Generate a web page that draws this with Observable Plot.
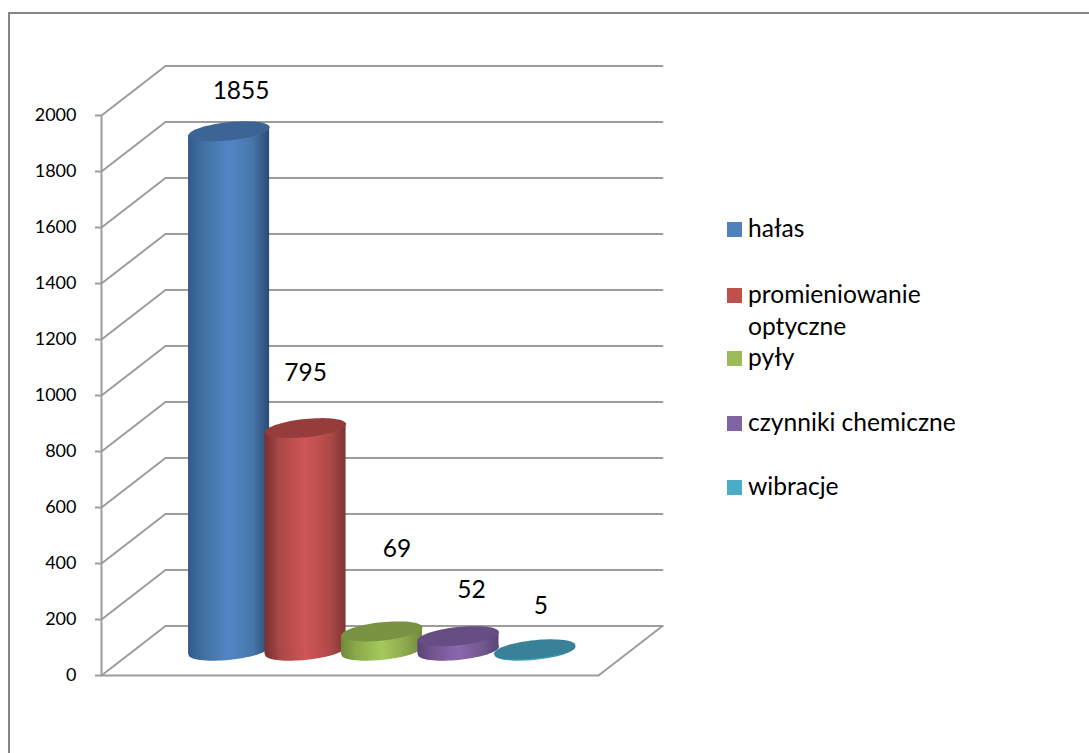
<!DOCTYPE html>
<html lang="pl">
<head>
<meta charset="utf-8">
<script src="https://cdn.jsdelivr.net/npm/d3@7"></script>
<script src="https://cdn.jsdelivr.net/npm/@observablehq/plot@0.6"></script>
<style>
  html, body { margin: 0; padding: 0; background: #fff; }
  #wrap { position: relative; width: 1089px; height: 753px; overflow: hidden; font-family: Lato, sans-serif; color: #000; }
  #frame { position: absolute; left: 8px; top: 12px; right: -4px; bottom: -4px; border-left: 2px solid #868686; border-top: 2px solid #868686; }
  #legend { position: absolute; left: 727px; top: 0; font-size: 24.6px; }
  .item { position: absolute; left: 0; width: 240px; line-height: 32px; padding-left: 21px; box-sizing: border-box; }
  .swatch { position: absolute; left: 0; top: 9px; width: 15px; height: 15px; }
  svg text { font-family: Lato, sans-serif; }
</style>
</head>
<body>
<div id="wrap"><div id="frame"></div><div id="chart"></div><div id="legend"></div></div>
<script>
const seriesNames = ["hałas", "promieniowanie optyczne", "pyły", "czynniki chemiczne", "wibracje"];
const seriesValues = [1855, 795, 69, 52, 5];
const axisTicks = [0, 200, 400, 600, 800, 1000, 1200, 1400, 1600, 1800, 2000];
const swatchColors = ["#4f81bd", "#c0504d", "#9bbb59", "#8064a2", "#4bacc6"];
const topColors = ["#3c6494", "#963d3c", "#7a9343", "#664e85", "#388198"];
const gradients = [
  ["#2f5a8e", "#41719f", "#5286c8", "#4776a8", "#2b4a74"],
  ["#772f2e", "#a84746", "#cf5655", "#ae4a48", "#7e3533"],
  ["#6f8a38", "#8ba84a", "#a5c95c", "#8ca74e", "#71883e"],
  ["#5a4277", "#72558f", "#8a68ae", "#72588f", "#59447a"],
  ["#2d7e92", "#3a93a8", "#4aa9c2", "#3a93a8", "#2d7e92"]
];
// hand-placed data label offsets (pixels) from the top of each cylinder
const labelDx = [12, 0, 15, 13, 6];
const labelDy = [-40, -55, -82, -46, -43];

// oblique-projection depth of the 3D box, in data units
const xLo = -1.25, xHi = 5.25;
const depthX = 0.837, depthY = 177;
const halfWidth = 0.53, tilt = 14;

const ellipse = {
  draw(ctx) {
    const a = 40.5, p = 4, q = 9.17, n = 72;
    for (let i = 0; i <= n; i++) {
      const t = (i / n) * 2 * Math.PI;
      const x = a * Math.cos(t), y = -p * Math.cos(t) - q * Math.sin(t);
      if (i === 0) ctx.moveTo(x, y); else ctx.lineTo(x, y);
    }
    ctx.closePath();
  }
};

const gridStyle = { stroke: "#9c9c9c", strokeWidth: 2 };
const marks = [];

// walls: each gridline runs back along the side wall and then across the back wall
for (const v of axisTicks) {
  marks.push(Plot.line(
    [[xLo, v], [xLo + depthX, v + depthY], [xHi + depthX, v + depthY]],
    { x: d => d[0], y: d => d[1], ...gridStyle }
  ));
}
// floor
marks.push(Plot.line(
  [[xLo, 0], [xHi, 0], [xHi + depthX, depthY]],
  { x: d => d[0], y: d => d[1], ...gridStyle }
));
marks.push(Plot.ruleX([xLo], { y1: 0, y2: 2000, ...gridStyle }));
marks.push(Plot.axisY(axisTicks, {
  x: xLo, anchor: "left", label: null, tickSize: 6, tickPadding: 19,
  tickFormat: d => String(d), fontSize: 18, ...gridStyle, fill: "#000"
}));

// cylinders, drawn in series order so each overlaps the previous one
seriesValues.forEach((value, i) => {
  const cx = i + depthX / 2, floor = depthY / 2, top = floor + value;
  marks.push(Plot.dot([{ x: cx, y: floor }], { x: "x", y: "y", symbol: ellipse, r: 5, fill: `url(#g${i})`, stroke: "none" }));
  marks.push(Plot.areaY(
    [
      { x: cx - halfWidth, y1: floor - tilt, y2: top - tilt },
      { x: cx + halfWidth, y1: floor + tilt, y2: top + tilt }
    ],
    { x: "x", y1: "y1", y2: "y2", fill: `url(#g${i})` }
  ));
  marks.push(Plot.dot([{ x: cx, y: top }], { x: "x", y: "y", symbol: ellipse, r: 5, fill: topColors[i], stroke: "none" }));
});

// data labels
seriesValues.forEach((value, i) => {
  marks.push(Plot.text([value], {
    x: () => i + depthX / 2, y: d => d + depthY / 2, text: d => String(d),
    dx: labelDx[i], dy: labelDy[i], fontSize: 24.5, fill: "#000"
  }));
});

const chart = Plot.plot({
  width: 1089, height: 753,
  marginTop: 0, marginRight: 0, marginBottom: 0, marginLeft: 0,
  x: { domain: [xLo, xHi], range: [101, 598], axis: null },
  y: { domain: [0, 2000], range: [675, 115], axis: null },
  style: { background: "none", fontFamily: "Lato, sans-serif", position: "absolute", left: 0, top: 0, overflow: "visible" },
  marks
});

const defs = d3.select(chart).insert("defs", ":first-child");
gradients.forEach((stops, i) => {
  const g = defs.append("linearGradient").attr("id", `g${i}`).attr("x1", 0).attr("x2", 1).attr("y1", 0).attr("y2", 0);
  [0, 0.18, 0.5, 0.8, 1].forEach((o, k) => g.append("stop").attr("offset", o).attr("stop-color", stops[k]));
});
document.getElementById("chart").appendChild(chart);

// legend
const itemTops = [212, 278, 341, 406, 470];
const legend = d3.select("#legend");
seriesNames.forEach((name, i) => {
  const item = legend.append("div").attr("class", "item").style("top", itemTops[i] + "px").text(name);
  item.append("div").attr("class", "swatch").style("top", "10px").style("background", swatchColors[i]);
});
</script>
</body>
</html>
